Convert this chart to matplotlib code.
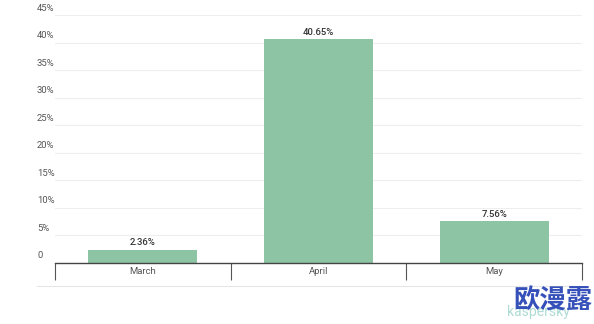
import matplotlib
matplotlib.use("Agg")
import matplotlib.pyplot as plt
from matplotlib.lines import Line2D
import matplotlib.transforms as mtransforms

plt.rcParams['font.family'] = ['Roboto', 'DejaVu Sans', 'Noto Sans CJK SC']

categories = ["March", "April", "May"]
values = [2.36, 40.65, 7.56]
value_labels = ["2.36%", "40.65%", "7.56%"]
yticks = [0, 5, 10, 15, 20, 25, 30, 35, 40, 45]
ytick_labels = ["0", "5%", "10%", "15%", "20%", "25%", "30%", "35%", "40%", "45%"]

W, H = 594, 324
fig = plt.figure(figsize=(W / 100, H / 100), dpi=100)
fig.patch.set_facecolor("white")
ax = fig.add_axes([55 / W, 1 - 262.5 / H, (582 - 55) / W, (262.5 - 15) / H])
ax.set_xlim(0, 3)
ax.set_ylim(0, 45)
for s in ["top", "right", "left"]:
    ax.spines[s].set_visible(False)
ax.spines["bottom"].set_color("#444444")
ax.spines["bottom"].set_linewidth(1.0)

# gridlines
for t in yticks[1:]:
    ax.axhline(t, color="#eeeeee", lw=0.8, zorder=0)

x = [i + 0.5 for i in range(len(categories))]
ax.bar(x, values, width=0.62, color="#8cc4a4", zorder=2)
for xi, v, lab in zip(x, values, value_labels):
    ax.annotate(lab, (xi, v), xytext=(0, 1.5), textcoords="offset points",
                ha="center", va="bottom", fontsize=6.8, color="#333333",
                fontweight="medium")

# y labels sitting above gridlines
ax.set_yticks([])
trans = mtransforms.blended_transform_factory(fig.transFigure, ax.transData) + \
    mtransforms.ScaledTranslation(0, 1.5 / 72, fig.dpi_scale_trans)
for t, lab in zip(yticks, ytick_labels):
    ax.text(37 / W, t, lab, transform=trans, ha="left", va="bottom",
            fontsize=6.8, color="#555555")

# category boundary ticks
ax.set_xticks([0, 1, 2, 3])
ax.set_xticklabels([])
ax.tick_params(axis="x", which="major", direction="out", length=12.5, width=0.8, color="#555555")
ax.set_xticks(x, minor=True)
ax.set_xticklabels(categories, minor=True)
ax.tick_params(axis="x", which="minor", length=0, pad=3, labelsize=6.8, labelcolor="#555555")

# bottom separator line
fig.add_artist(Line2D([37 / W, 582 / W], [1 - 286 / H, 1 - 286 / H],
                      transform=fig.transFigure, color="#e6e6e6", lw=0.8))

# watermark
fig.text(507 / W, 1 - 312 / H, "kaspersky", fontsize=10, color="#5fb8a8", alpha=0.5,
         ha="left", va="center")
fig.text(513 / W, 1 - 301 / H, "欧漫露", fontsize=19, color="#3550b8", fontweight="bold",
         family=["Noto Sans CJK SC", "DejaVu Sans"], ha="left", va="center")

fig.savefig("out.png", dpi=100, facecolor="white")
